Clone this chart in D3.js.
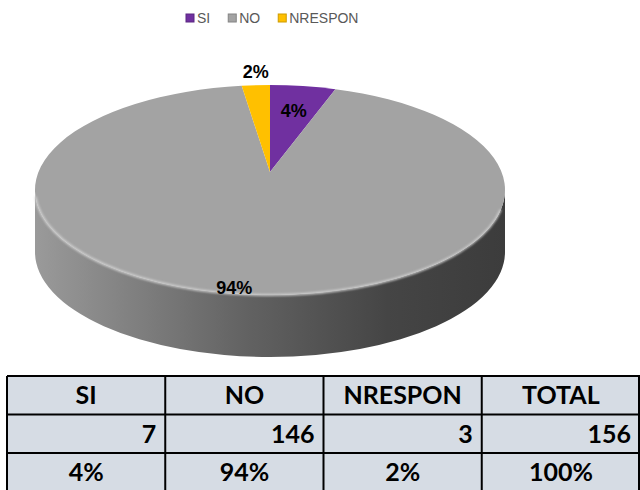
<!DOCTYPE html>
<html>
<head>
<meta charset="utf-8">
<script src="https://cdn.jsdelivr.net/npm/d3@7"></script>
<style>
  body { margin: 0; background: #fff; }
  svg { display: block; }
</style>
</head>
<body>
<div id="plot"></div>
<script>
var categories = ["SI", "NO", "NRESPON"];
var counts = [7, 146, 3];
var colors = ["#7030a0", "#a3a3a3", "#ffc000"];
var headerRow = ["SI", "NO", "NRESPON", "TOTAL"];

var total = d3.sum(counts);
var valueRow = counts.concat([total]);
var pctRow = counts.map(function(v){ return Math.round(v / total * 100) + "%"; }).concat(["100%"]);

var width = 640, height = 490;
var svg = d3.select("#plot").append("svg").attr("width", width).attr("height", height);
var defs = svg.append("defs");

// ---- legend
var legend = svg.append("g").attr("transform", "translate(186,14)");
var lx = 0;
categories.forEach(function(c, i){
  var item = legend.append("g").attr("transform", "translate(" + lx + ",0)");
  item.append("rect").attr("width", 8).attr("height", 8).attr("fill", colors[i])
    .attr("stroke", d3.color(colors[i]).darker(0.6)).attr("stroke-width", 1);
  var t = item.append("text").attr("x", 11).attr("y", 9)
    .attr("font-family", "Liberation Sans, Arial, sans-serif").attr("font-size", "14px")
    .attr("fill", "#595959").text(c);
  lx += 11 + t.node().getComputedTextLength() + 18;
});

// ---- 3D pie
var cx = 270, cy = 190, rx = 235, ry = 105, depth = 62;
var apex = [270, 172];
function pt(a){ return [cx + rx * Math.sin(a), cy - ry * Math.cos(a)]; }

var pie = d3.pie().sort(null).value(function(d){ return d; });
var arcs = pie(counts);

var grad = defs.append("linearGradient").attr("id", "side").attr("x1", "0%").attr("x2", "100%");
grad.append("stop").attr("offset", "0%").attr("stop-color", "#9a9a9a");
grad.append("stop").attr("offset", "45%").attr("stop-color", "#626262");
grad.append("stop").attr("offset", "75%").attr("stop-color", "#454545");
grad.append("stop").attr("offset", "100%").attr("stop-color", "#3c3c3c");

var blur = defs.append("filter").attr("id", "soft");
blur.append("feGaussianBlur").attr("stdDeviation", 1.2);

var g = svg.append("g");

// side wall (front half)
var r1 = pt(Math.PI / 2), l1 = pt(3 * Math.PI / 2);
g.append("path")
  .attr("d", "M" + r1 + " A" + rx + " " + ry + " 0 0 1 " + l1 +
    " L" + [l1[0], l1[1] + depth] +
    " A" + rx + " " + ry + " 0 0 0 " + [r1[0], r1[1] + depth] + " Z")
  .attr("fill", "url(#side)");

// top faces
g.selectAll(".slice").data(arcs).enter().append("path")
  .attr("class", "slice")
  .attr("d", function(d){
    var p0 = pt(d.startAngle), p1 = pt(d.endAngle);
    var large = (d.endAngle - d.startAngle) > Math.PI ? 1 : 0;
    return "M" + apex + " L" + p0 + " A" + rx + " " + ry + " 0 " + large + " 1 " + p1 + " Z";
  })
  .attr("fill", function(d, i){ return colors[i]; });

// front rim highlight
g.append("path")
  .attr("d", "M" + pt(Math.PI * 0.56) + " A" + rx + " " + ry + " 0 0 1 " + pt(Math.PI * 1.48))
  .attr("fill", "none").attr("stroke", "#d2d2d2").attr("stroke-width", 2)
  .attr("filter", "url(#soft)");

// labels
g.selectAll(".lbl").data(arcs).enter().append("text")
  .attr("class", "lbl")
  .each(function(d){
    var mid = (d.startAngle + d.endAngle) / 2;
    var frac = d.value / total;
    var p = pt(mid), x, y;
    if (frac < 0.03) {
      x = p[0]; y = p[1] - 14;
    } else {
      var k = frac > 0.5 ? 0.94 : 0.72;
      x = apex[0] + k * (p[0] - apex[0]) - (frac > 0.5 ? 18 : 0);
      y = apex[1] + k * (p[1] - apex[1]);
    }
    d3.select(this).attr("x", x).attr("y", y);
  })
  .attr("text-anchor", "middle").attr("dy", "0.36em")
  .attr("font-family", "Liberation Sans, Arial, sans-serif").attr("font-weight", "bold")
  .attr("font-size", "18px").attr("fill", "#000")
  .text(function(d){ return Math.round(d.value / total * 100) + "%"; });

// ---- table
var tx0 = 7, tx1 = 640, ty = 376, rowH = 38.5;
var colX = d3.scaleBand().domain(d3.range(4)).range([tx0, tx1]);
var rows = [headerRow, valueRow, pctRow];
var aligns = ["middle", "end", "middle"];
var tbl = svg.append("g");
tbl.append("rect").attr("x", tx0).attr("y", ty).attr("width", tx1 - tx0).attr("height", rowH * 3)
  .attr("fill", "#d6dce4");
rows.forEach(function(r, ri){
  r.forEach(function(v, ci){
    var x0 = colX(ci), w = colX.bandwidth();
    tbl.append("text")
      .attr("x", aligns[ri] === "end" ? x0 + w - 9 : x0 + w / 2)
      .attr("y", ty + rowH * ri + rowH / 2)
      .attr("dy", "0.36em").attr("text-anchor", aligns[ri])
      .attr("font-family", "Lato, Open Sans, sans-serif").attr("font-weight", "bold")
      .attr("font-size", "25px").attr("fill", "#000").text(v);
  });
});
for (var i = 0; i <= 3; i++) {
  tbl.append("line").attr("x1", tx0).attr("x2", tx1).attr("y1", ty + rowH * i).attr("y2", ty + rowH * i)
    .attr("stroke", "#000").attr("stroke-width", 2);
}
for (var j = 0; j <= 4; j++) {
  var xx = j < 4 ? colX(j) : tx1 - 1;
  tbl.append("line").attr("x1", xx).attr("x2", xx).attr("y1", ty).attr("y2", ty + rowH * 3)
    .attr("stroke", "#000").attr("stroke-width", 2);
}
</script>
</body>
</html>
